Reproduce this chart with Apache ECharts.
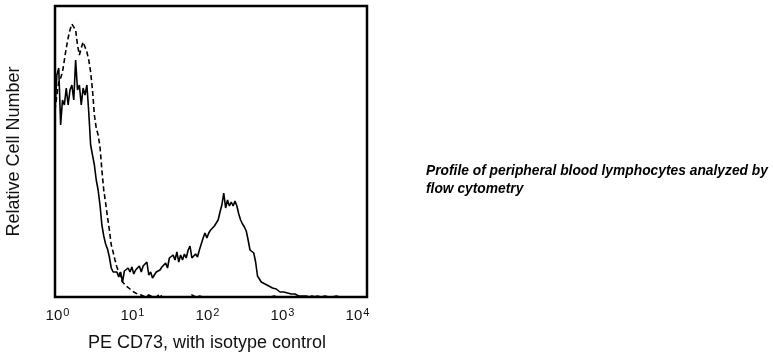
<!DOCTYPE html>
<html>
<head>
<meta charset="utf-8">
<script src="https://cdn.jsdelivr.net/npm/echarts@6/dist/echarts.min.js"></script>
<style>
html,body{margin:0;padding:0;background:#fff;}
#chart{width:773px;height:354px;}
</style>
</head>
<body>
<div id="chart"></div>
<script>
// channel width in decades (log10 units)
const channelStep = 0.025;
// decade exponents for tick labels (10^n)
const tickExponents = [0, 1, 2, 3, 4];
const xAxisTitle = 'PE CD73, with isotype control';
const yAxisTitle = 'Relative Cell Number';
const noteLines = ['Profile of peripheral blood lymphocytes analyzed by', 'flow cytometry'];

// PE CD73 stained sample (solid line), counts per channel
const sampleCounts = [
  187,222,229,172,197,192,209,192,207,212,
  197,237,207,212,192,209,202,212,185,152,
  142,132,117,107,92,72,61,53,48,40,
  29,25,23,25,20,25,15,26,27,29,
  25,30,23,27,29,31,25,31,33,35,
  22,25,19,22,25,27,27,30,29,34,
  29,39,39,42,37,45,35,42,37,43,
  39,47,51,39,41,43,40,47,53,59,
  64,59,64,67,65,71,73,77,85,92,
  104,89,97,91,95,91,96,91,83,77,
  73,70,66,57,47,47,44,35,21,18,
  15,14,13,11,11,9,9,7,8,6,
  5,4,5,3,4,4,3,2,3,2,
  1,2,1,0,1,0,0,1,0,0,
  1,0,0,0,1,0,0,0,0,0,
  1,0,0,0,0,0,0,0,0,0,
  0,0,0,0,0,0,0
];

// isotype control (dashed line), counts per channel
const isotypeCounts = [
  187,202,215,219,225,237,249,259,267,273,
  275,267,252,242,249,255,253,245,237,225,
  207,182,169,162,150,127,107,94,80,67,
  52,45,37,30,25,21,15,13,11,10,
  8,6,5,4,3,2,2,1,0,0,
  2,0,0,1,0,0,3,0,2,0,
  0,0,1,0,0,0,2,0,0,0,
  1,0,0,2,0,0,0,1,0,0,
  2,0,0,0,2,0,0,0,1,0,
  0,0,2,0,0,0,1,0,0,0,
  2,0,0,0,1,0,0,0,2,0,
  0,0,1,0,0,0,0,1,0,0,
  2,0,0,0,1,0,0,0,2,0,
  0,0,0,0,0,0,0,1,0,0,
  0,0,0,0,0,0,0,0,0,0,
  2,0,0,0,0,0,0,0,0,0,
  2,0,0,0,0,0,0
];

const toPairs = arr => arr.map((c, i) => [i * channelStep, c]);

const chart = echarts.init(document.getElementById('chart'), null, {renderer: 'canvas'});
const FONT = 'Liberation Sans, Arial, Helvetica, sans-serif';

chart.setOption({
  animation: false,
  backgroundColor: '#fff',
  grid: {
    left: 55, top: 6, right: 406, bottom: 57,
    outerBoundsMode: 'none', containLabel: false,
    show: true, borderColor: '#000', borderWidth: 2.5, backgroundColor: 'transparent'
  },
  xAxis: {
    type: 'value', min: 0, max: 4.16, interval: 1,
    axisLine: {show: false}, axisTick: {show: false}, splitLine: {show: false},
    axisLabel: {
      margin: 10, color: '#111', fontFamily: FONT, fontSize: 15,
      padding: [0, 0, 0, 5],
      formatter: v => {
        const n = Math.round(v);
        if (Math.abs(v - n) > 1e-6 || tickExponents.indexOf(n) < 0) return '';
        return '{b|10}{sup|' + n + '}';
      },
      rich: {
        b: {fontSize: 15, fontFamily: FONT, color: '#111', lineHeight: 18},
        sup: {fontSize: 11, fontFamily: FONT, color: '#111', verticalAlign: 'bottom', padding: [0, 0, 7, 1]}
      }
    },
    name: xAxisTitle, nameLocation: 'middle', nameGap: 37,
    nameTextStyle: {fontFamily: FONT, fontSize: 18, color: '#111', padding: [0, 8, 0, 0]}
  },
  yAxis: {
    type: 'value', min: 0, max: 291,
    axisLine: {show: false}, axisTick: {show: false}, splitLine: {show: false},
    axisLabel: {show: false},
    name: yAxisTitle, nameLocation: 'middle', nameGap: 32,
    nameTextStyle: {fontFamily: FONT, fontSize: 18, color: '#111'}
  },
  series: [
    {
      type: 'line', data: toPairs(isotypeCounts), showSymbol: false,
      lineStyle: {color: '#000', width: 1.6, type: [5, 3]}, z: 3
    },
    {
      type: 'line', data: toPairs(sampleCounts), showSymbol: false,
      lineStyle: {color: '#000', width: 1.6}, z: 4
    }
  ],
  graphic: [
    {
      type: 'text', left: 426, top: 162,
      style: {
        text: noteLines.join('\n'),
        font: 'italic bold 13.8px ' + FONT,
        fill: '#000', lineHeight: 18
      }
    }
  ]
});
</script>
</body>
</html>
